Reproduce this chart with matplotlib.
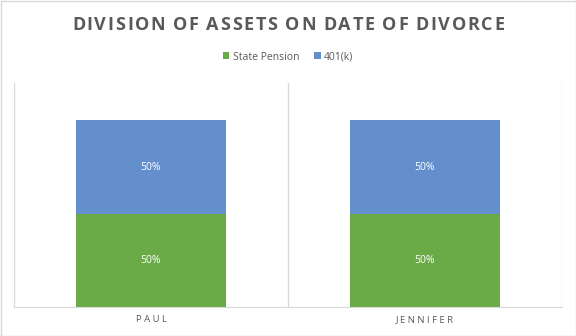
import numpy as np
import matplotlib
matplotlib.use("Agg")
import matplotlib.pyplot as plt

people = ["PAUL", "JENNIFER"]
state_pension = [0.5, 0.5]
k401 = [0.5, 0.5]
title = "DIVISION OF ASSETS ON DATE OF DIVORCE"

green = "#6AAB47"
blue = "#638FCD"
grey = "#595959"

plt.rcParams["font.family"] = ["Open Sans", "DejaVu Sans"]


def tracked_text(fig, s, xc, y_base, width_px, **kw):
    # lay the characters out one by one so the letter spacing can be set
    r = fig.canvas.get_renderer()

    def w(t):
        tx = fig.text(0, 0, t, **kw)
        e = tx.get_window_extent(r).width
        tx.remove()
        return e

    space = w("I I") - w("II")
    widths = [space if c == " " else w(c) for c in s]
    track = max(0.0, (width_px - sum(widths)) / (len(s) - 1))
    xpx = xc * fig.bbox.width - width_px / 2
    for c, cw in zip(s, widths):
        if c != " ":
            fig.text(xpx / fig.bbox.width, y_base, c, ha="left", va="baseline", **kw)
        xpx += cw + track


fig = plt.figure(figsize=(5.76, 3.36), dpi=100)
ax = fig.add_axes([14 / 576, 1 - 307 / 336, 548 / 576, 224 / 336])

x = np.arange(len(people))
w = 0.55
ax.bar(x, state_pension, w, color=green, label="State Pension", zorder=2)
ax.bar(x, k401, w, bottom=state_pension, color=blue, label="401(k)", zorder=2)

for i in x:
    ax.text(i, state_pension[i] / 2, f"{state_pension[i]:.0%}", ha="center", va="center",
            color="white", fontsize=7.5)
    ax.text(i, state_pension[i] + k401[i] / 2, f"{k401[i]:.0%}", ha="center", va="center",
            color="white", fontsize=7.5)

ax.set_xlim(-0.5, 1.5)
ax.set_ylim(0, 1.2)
ax.set_yticks([])
ax.set_xticks(x)
ax.set_xticklabels([" ".join(p) for p in people], color=grey, fontsize=6.8)
ax.tick_params(axis="x", length=0, pad=6)
for xv in [-0.5, 0.5, 1.5]:
    ax.axvline(xv, color="#D9D9D9", lw=1, zorder=1)
for side in ["top", "left", "right"]:
    ax.spines[side].set_visible(False)
ax.spines["bottom"].set_color("#D9D9D9")

tracked_text(fig, title, 0.5, 1 - 30 / 336, 432, fontsize=13, fontweight="bold",
             color=grey, family=["Open Sans", "DejaVu Sans"])

leg = fig.legend(loc="center", bbox_to_anchor=(0.5, 1 - 57 / 336), ncol=2, frameon=False,
                 fontsize=7.5, handlelength=0.65, handleheight=0.65, handletextpad=0.3,
                 columnspacing=1.45, labelcolor=grey)

fig.patches.append(plt.Rectangle((0.5 / 576, 0.5 / 336), 575 / 576, 335 / 336, transform=fig.transFigure,
                                 fill=False, edgecolor="#D9D9D9", lw=1))

fig.savefig("out.png", dpi=100)
